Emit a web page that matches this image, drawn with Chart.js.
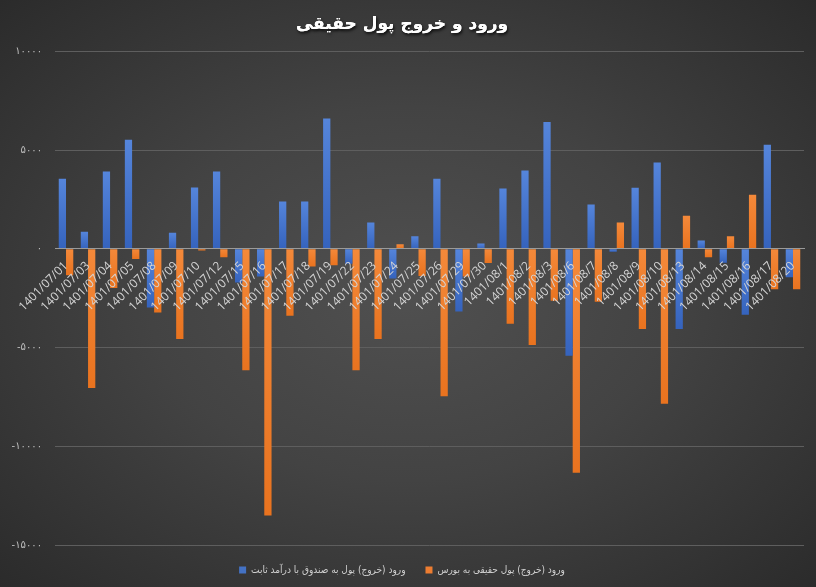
<!DOCTYPE html>
<html>
<head>
<meta charset="utf-8">
<script src="https://cdn.jsdelivr.net/npm/chart.js@4.4.0/dist/chart.umd.min.js"></script>
<style>
    html, body { margin: 0; padding: 0; background: #333; }
    #wrap {
        width: 816px;
        height: 587px;
        background: radial-gradient(ellipse at 50% 50%, #505050 0%, #434343 45%, #2b2b2b 100%);
    }
</style>
</head>
<body>
<div id="wrap"><canvas id="chart" width="816" height="587"></canvas></div>
<script>
const dates = [
    '1401/07/01', '1401/07/03', '1401/07/04', '1401/07/05', '1401/07/08', '1401/07/09',
    '1401/07/10', '1401/07/12', '1401/07/15', '1401/07/16', '1401/07/17', '1401/07/18',
    '1401/07/19', '1401/07/22', '1401/07/23', '1401/07/24', '1401/07/25', '1401/07/26',
    '1401/07/29', '1401/07/30', '1401/08/1', '1401/08/2', '1401/08/3', '1401/08/6',
    '1401/08/7', '1401/08/8', '1401/08/9', '1401/08/10', '1401/08/13', '1401/08/14',
    '1401/08/15', '1401/08/16', '1401/08/17', '1401/08/20'
];

// fixed income funds
const fundFlow = [
    3550, 870, 3920, 5520, -2970, 820,
    3110, 3920, -1700, -1400, 2400, 2400,
    6600, -750, 1330, -1500, 640, 3550,
    -3170, 270, 3060, 3970, 6430, -5420,
    2250, -150, 3100, 4370, -4060, 420,
    -700, -3340, 5270, -1440
];

// individuals into the stock market
const stockFlow = [
    -1340, -7050, -1980, -520, -3220, -4570,
    -80, -420, -6150, -13500, -3390, -890,
    -825, -6150, -4570, 230, -1370, -7460,
    -1400, -720, -3800, -4870, -2630, -11340,
    -2680, 1330, -4060, -7850, 1680, -420,
    640, 2740, -2050, -2050
];

const yTicks = [10000, 5000, 0, -5000, -10000, -15000];

const seriesNames = [
    'ورود (خروج) پول به صندوق با درآمد ثابت',
    'ورود (خروج) پول حقیقی به بورس'
];

const faDigits = '۰۱۲۳۴۵۶۷۸۹';
function toFa(n) {
    return String(n).replace(/[0-9]/g, d => faDigits[d]);
}

// light on top, darker at the bottom of each bar
function barFill(light, dark) {
    return function(c) {
        const chart = c.chart;
        const y = chart.scales.y;
        if (!y || !c.parsed || c.type !== 'data') return dark;
        const p0 = y.getPixelForValue(0);
        const p1 = y.getPixelForValue(c.parsed.y);
        const top = Math.min(p0, p1), bottom = Math.max(p0, p1);
        if (!isFinite(top) || bottom - top < 1) return dark;
        const g = chart.ctx.createLinearGradient(0, top, 0, bottom);
        g.addColorStop(0, light);
        g.addColorStop(1, dark);
        return g;
    };
}

const titleShadow = {
    id: 'titleShadow',
    beforeDraw(chart) {
        const t = chart.titleBlock;
        if (!t) return;
        const c = chart.ctx;
        c.save();
        c.shadowColor = 'rgba(0,0,0,0.8)';
        c.shadowOffsetX = 1;
        c.shadowOffsetY = 2;
        c.shadowBlur = 3;
        t.draw();
        c.restore();
    }
};

const ctx = document.getElementById('chart');

new Chart(ctx, {
    type: 'bar',
    data: {
        labels: dates,
        datasets: [{
            label: seriesNames[0],
            data: fundFlow,
            backgroundColor: barFill('#5585db', '#3563bd'),
            barPercentage: 1,
            categoryPercentage: 0.66
        }, {
            label: seriesNames[1],
            data: stockFlow,
            backgroundColor: barFill('#f4893a', '#e9731f'),
            barPercentage: 1,
            categoryPercentage: 0.66
        }]
    },
    options: {
        responsive: false,
        animation: false,
        layout: {
            padding: { top: 10, right: 12, bottom: 2, left: 0 }
        },
        plugins: {
            title: {
                display: true,
                text: 'ورود و خروج پول حقیقی',
                color: '#ffffff',
                font: { family: 'DejaVu Sans', size: 17, weight: 'bold' },
                padding: { top: 4, bottom: 17 }
            },
            legend: {
                position: 'bottom',
                labels: {
                    color: '#d0d0d0',
                    boxWidth: 7,
                    boxHeight: 7,
                    padding: 20,
                    font: { family: "'DejaVu Sans Condensed', 'DejaVu Sans'", size: 10 },
                    generateLabels: function(chart) {
                        const items = Chart.defaults.plugins.legend.labels.generateLabels(chart);
                        items[0].fillStyle = '#4472c4';
                        items[1].fillStyle = '#ed7d31';
                        return items;
                    }
                }
            },
            tooltip: { enabled: false }
        },
        scales: {
            x: {
                position: { y: 0 },
                grid: { display: false },
                border: { display: true, color: '#9a9a9a', width: 1, z: 1 },
                ticks: {
                    z: 1,
                    color: '#d4d4d4',
                    autoSkip: false,
                    minRotation: 45,
                    maxRotation: 45,
                    padding: 2,
                    font: { family: 'Open Sans', size: 12 }
                }
            },
            y: {
                min: -15000,
                max: 10000,
                afterBuildTicks: function(scale) {
                    scale.ticks = yTicks.map(v => ({ value: v }));
                },
                afterFit: function(scale) {
                    scale.width = 55;
                },
                grid: { color: '#5e5e5e', drawTicks: false },
                border: { display: false },
                ticks: {
                    color: '#bfbfbf',
                    padding: 13,
                    font: { family: 'DejaVu Sans', size: 10 },
                    callback: function(value) {
                        return toFa(value);
                    }
                }
            }
        }
    },
    plugins: [titleShadow]
});
</script>
</body>
</html>
